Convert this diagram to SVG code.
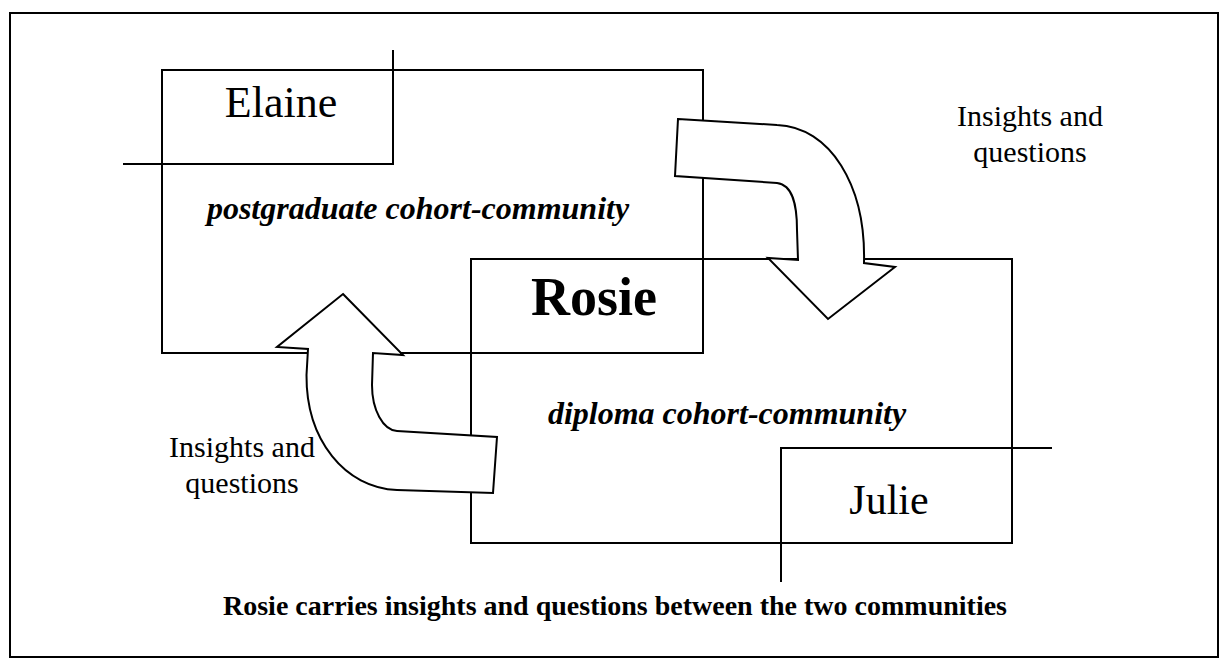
<svg xmlns="http://www.w3.org/2000/svg" width="1229" height="668" viewBox="0 0 1229 668">
<style>
.ln{fill:none;stroke:#000;stroke-width:2}
.ar{fill:#fff;stroke:#000;stroke-width:2;stroke-linejoin:miter}
text{font-family:"Liberation Serif","Times New Roman",Times,serif;fill:#000}
.bi{font-weight:bold;font-style:italic}
.b{font-weight:bold}
</style>
<rect x="0" y="0" width="1229" height="668" fill="#fff"/>
<rect class="ln" x="10" y="13" width="1208" height="644"/>
<g id="postgraduate">
<rect class="ln" x="162" y="70" width="541" height="283"/>
<text class="bi" x="418" y="219" font-size="32" text-anchor="middle">postgraduate cohort-community</text>
</g>
<g id="diploma">
<rect class="ln" x="471" y="259" width="541" height="284"/>
<text class="bi" x="727" y="424" font-size="32" text-anchor="middle">diploma cohort-community</text>
</g>
<g id="elaine">
<path class="ln" d="M162,70 H393 V164 H162 Z M393,70 V50 M162,164 H123"/>
<text x="281" y="117" font-size="44" text-anchor="middle">Elaine</text>
</g>
<g id="julie">
<path class="ln" d="M781,448 H1012 V543 H781 Z M1012,448 H1052 M781,543 V582"/>
<text x="889" y="514" font-size="42" text-anchor="middle">Julie</text>
</g>
<g id="rosie">
<rect class="ln" x="471" y="259" width="232" height="94"/>
<text class="b" x="594" y="315" font-size="54" text-anchor="middle">Rosie</text>
</g>
<g id="connectors">
<path class="ar" d="M678,119 L777,125 C830,127 866,185 864,263 L895,267 L828,319 L768,258 L798,260 L797,230 C797,205 793,185 777,183 L675,176 Z"/>
<path class="ar" d="M343,294 L403,355 L373,353 L372,385 C372,410 383,430 397,431 L497,437 L493,493 L397,490 C345,488 306,440 306.5,375 L308,349 L277,347 Z"/>
</g>
<g id="labels">
<text font-size="30" text-anchor="middle"><tspan x="1030" y="126">Insights and</tspan><tspan x="1030" y="162">questions</tspan></text>
<text font-size="30" text-anchor="middle"><tspan x="242" y="457">Insights and</tspan><tspan x="242" y="493">questions</tspan></text>
<text class="b" x="615" y="615" font-size="28" text-anchor="middle">Rosie carries insights and questions between the two communities</text>
</g>
</svg>
